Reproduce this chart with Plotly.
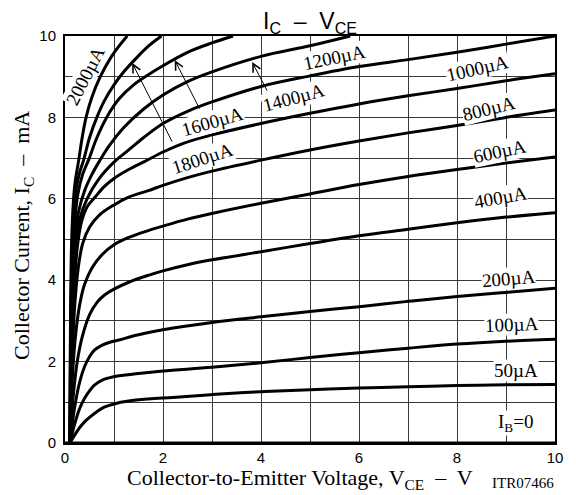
import plotly.graph_objects as go

# ---- data ----
series_names = ["IB=0", "50µA", "100µA", "200µA", "400µA", "600µA", "800µA",
                "1000µA", "1200µA", "1400µA", "1600µA", "1800µA", "2000µA"]

vce_ib0 = [0, 10]
ic_ib0 = [0, 0]

vce_50 = [0.1, 0.2, 0.3, 0.4, 0.5, 0.65, 0.8, 1, 1.3, 1.7, 2.2, 3, 4, 5, 6, 7, 8, 9, 10]
ic_50 = [0, 0.2, 0.38, 0.52, 0.63, 0.77, 0.88, 0.96, 1.03, 1.08, 1.12, 1.19, 1.26, 1.31, 1.35, 1.38, 1.41, 1.43, 1.44]

vce_100 = [0.1, 0.15, 0.2, 0.3, 0.4, 0.5, 0.6, 0.75, 0.9, 1.1, 1.5, 2, 3, 4, 5, 6, 7, 8, 9, 10]
ic_100 = [0, 0.25, 0.48, 0.85, 1.1, 1.28, 1.42, 1.54, 1.6, 1.65, 1.71, 1.77, 1.86, 1.97, 2.1, 2.22, 2.33, 2.43, 2.5, 2.55]

vce_200 = [0.1, 0.14, 0.2, 0.3, 0.4, 0.5, 0.6, 0.75, 0.9, 1.1, 1.5, 2, 3, 4, 5, 6, 7, 8, 9, 10]
ic_200 = [0, 0.4, 0.9, 1.5, 1.88, 2.12, 2.28, 2.4, 2.47, 2.53, 2.66, 2.78, 2.96, 3.1, 3.23, 3.35, 3.48, 3.6, 3.7, 3.8]

vce_400 = [0.1, 0.13, 0.18, 0.25, 0.35, 0.5, 0.65, 0.8, 1, 1.3, 1.7, 2, 2.5, 3, 4, 5, 6, 7, 8, 9, 10]
ic_400 = [0, 0.6, 1.3, 2.0, 2.6, 3.15, 3.45, 3.63, 3.78, 3.95, 4.12, 4.23, 4.38, 4.5, 4.7, 4.9, 5.09, 5.25, 5.41, 5.55, 5.66]

vce_600 = [0.1, 0.12, 0.16, 0.22, 0.3, 0.4, 0.55, 0.75, 1, 1.3, 1.7, 2, 2.5, 3, 4, 5, 6, 7, 8, 9, 10]
ic_600 = [0, 0.8, 1.8, 2.7, 3.4, 3.9, 4.3, 4.62, 4.87, 5.05, 5.22, 5.33, 5.5, 5.64, 5.89, 6.12, 6.35, 6.55, 6.72, 6.88, 7.03]

vce_800 = [0.1, 0.12, 0.15, 0.2, 0.27, 0.36, 0.5, 0.7, 1, 1.3, 1.7, 2, 2.5, 3, 4, 5, 6, 7, 8, 9, 10]
ic_800 = [0, 1.0, 2.2, 3.4, 4.3, 4.9, 5.3, 5.6, 5.85, 6.04, 6.2, 6.33, 6.52, 6.68, 6.95, 7.2, 7.42, 7.62, 7.8, 8.0, 8.18]

vce_1000 = [0.1, 0.12, 0.15, 0.19, 0.25, 0.34, 0.45, 0.62, 0.8, 1, 1.3, 1.63, 2, 2.5, 3, 4, 5, 6, 7, 8, 9, 10]
ic_1000 = [0, 1.2, 2.6, 3.8, 4.8, 5.45, 5.8, 6.05, 6.3, 6.5, 6.72, 6.92, 7.15, 7.4, 7.57, 7.85, 8.1, 8.33, 8.53, 8.71, 8.9, 9.07]

vce_1200 = [0.1, 0.12, 0.14, 0.17, 0.22, 0.3, 0.45, 0.7, 1, 1.3, 1.6, 2, 2.5, 3, 4, 5, 6, 7, 8, 9, 10]
ic_1200 = [0, 1.4, 2.8, 4.0, 4.9, 5.5, 6.0, 6.5, 6.9, 7.2, 7.5, 7.85, 8.15, 8.38, 8.76, 9.02, 9.25, 9.42, 9.6, 9.8, 10.0]

vce_1400 = [0.1, 0.115, 0.13, 0.16, 0.2, 0.28, 0.4, 0.55, 0.7, 0.9, 1.2, 1.6, 2, 2.5, 3, 4, 5, 5.82]
ic_1400 = [0, 1.5, 3.0, 4.2, 5.0, 5.7, 6.2, 6.6, 6.92, 7.3, 7.75, 8.2, 8.55, 8.88, 9.12, 9.5, 9.76, 10.0]

vce_1600 = [0.1, 0.11, 0.125, 0.15, 0.19, 0.26, 0.36, 0.48, 0.65, 0.85, 1.1, 1.4, 1.7, 2, 2.5, 3, 3.43]
ic_1600 = [0, 1.5, 3.0, 4.3, 5.3, 6.1, 6.6, 6.95, 7.5, 8.0, 8.45, 8.8, 9.05, 9.27, 9.6, 9.83, 10.0]

vce_1800 = [0.1, 0.11, 0.12, 0.14, 0.17, 0.22, 0.3, 0.38, 0.5, 0.65, 0.8, 1.0, 1.2, 1.45, 1.7, 1.97]
ic_1800 = [0, 1.8, 3.2, 4.5, 5.5, 6.2, 6.65, 6.95, 7.5, 8.0, 8.4, 8.8, 9.12, 9.45, 9.75, 10.0]

vce_2000 = [0.1, 0.105, 0.115, 0.13, 0.16, 0.2, 0.28, 0.35, 0.43, 0.55, 0.72, 0.95, 1.1, 1.27]
ic_2000 = [0, 1.8, 3.4, 4.7, 5.7, 6.35, 6.95, 7.5, 8.0, 8.5, 9.0, 9.5, 9.75, 10.0]

curves = [
    (vce_ib0, ic_ib0), (vce_50, ic_50), (vce_100, ic_100), (vce_200, ic_200),
    (vce_400, ic_400), (vce_600, ic_600), (vce_800, ic_800), (vce_1000, ic_1000),
    (vce_1200, ic_1200), (vce_1400, ic_1400), (vce_1600, ic_1600),
    (vce_1800, ic_1800), (vce_2000, ic_2000),
]

tick_vals = list(range(0, 11))
tick_text = ["0", "", "2", "", "4", "", "6", "", "8", "", "10"]

# curve labels: text, x, y, angle
label_text = ["I<sub>B</sub>=0", "50µA", "100µA", "200µA", "400µA", "600µA", "800µA",
              "1000µA", "1200µA", "1400µA", "1600µA", "1800µA", "2000µA"]
label_x = [9.2, 9.2, 9.12, 9.06, 8.88, 8.86, 8.65, 8.41, 5.49, 4.67, 3.02, 2.8, 0.42]
label_y = [0.49, 1.79, 2.9, 4.03, 6.02, 7.17, 8.23, 9.19, 9.46, 8.5, 7.9, 6.98, 9.02]
label_angle = [0, 0, -2, -5, -10, -12, -14, -13, -12, -15, -16, -18, -63]

# arrows: tip (on curve) and tail (near label)
arrow_tip_x = [3.82, 2.24, 1.37]
arrow_tip_y = [9.36, 9.41, 9.34]
arrow_tail_x = [4.14, 2.76, 2.2]
arrow_tail_y = [8.62, 8.18, 7.37]

SANS = "Liberation Sans, Arial, sans-serif"
SERIF = "Liberation Serif, Times New Roman, serif"

fig = go.Figure()
for name, (xs, ys) in zip(series_names, curves):
    fig.add_trace(go.Scatter(
        x=xs, y=ys, mode="lines", name=name,
        line=dict(color="black", width=3, shape="spline", smoothing=1.0),
        showlegend=False, hoverinfo="skip",
    ))

annotations = []
for t, x, y, a in zip(label_text, label_x, label_y, label_angle):
    annotations.append(dict(
        x=x, y=y, xref="x", yref="y", text=t, showarrow=False, textangle=a,
        font=dict(family=SERIF, size=19, color="black"),
        bgcolor="white", borderpad=0, xanchor="center", yanchor="middle",
    ))
for tx, ty, sx, sy in zip(arrow_tip_x, arrow_tip_y, arrow_tail_x, arrow_tail_y):
    annotations.append(dict(
        x=tx, y=ty, xref="x", yref="y", ax=sx, ay=sy, axref="x", ayref="y",
        text="", showarrow=True, arrowhead=5, arrowsize=1.6, arrowwidth=1,
        arrowcolor="black",
    ))

# titles (positions in paper units of the plot area)
annotations.append(dict(
    x=0.5, y=(443 - 22) / 407, xref="paper", yref="paper", showarrow=False,
    text="I<sub>C</sub>  –  V<sub>CE</sub>",
    font=dict(family=SANS, size=23, color="black"), xanchor="center", yanchor="middle",
))
annotations.append(dict(
    x=(300 - 65) / 490, y=(443 - 479) / 407, xref="paper", yref="paper", showarrow=False,
    text="Collector-to-Emitter Voltage, V<sub>CE</sub>  –  V",
    font=dict(family=SERIF, size=22, color="black"), xanchor="center", yanchor="middle",
))
annotations.append(dict(
    x=(523 - 65) / 490, y=(443 - 483) / 407, xref="paper", yref="paper", showarrow=False,
    text="ITR07466",
    font=dict(family=SERIF, size=15, color="black"), xanchor="center", yanchor="middle",
))
annotations.append(dict(
    x=(23 - 65) / 490, y=(443 - 236) / 407, xref="paper", yref="paper", showarrow=False,
    text="Collector Current, I<sub>C</sub>  –  mA", textangle=-90,
    font=dict(family=SERIF, size=22, color="black"), xanchor="center", yanchor="middle",
))

axis_common = dict(
    range=[0, 10], tickvals=tick_vals, ticktext=tick_text,
    showgrid=True, gridcolor="#3a3a3a", gridwidth=1,
    showline=True, linecolor="black", linewidth=2, mirror=True,
    zeroline=False, ticks="", tickfont=dict(family=SANS, size=15, color="black"),
    fixedrange=True,
)

# page body has an 8px margin, so the figure is 8px smaller than the window
fig.update_layout(
    width=568, height=487,
    margin=dict(l=57, r=21, t=28, b=52),
    paper_bgcolor="white", plot_bgcolor="white",
    xaxis=dict(**axis_common, ticklabelstandoff=0),
    yaxis=dict(**axis_common, ticklabelstandoff=4),
    annotations=annotations,
    showlegend=False,
)

fig.write_html("out.html")
